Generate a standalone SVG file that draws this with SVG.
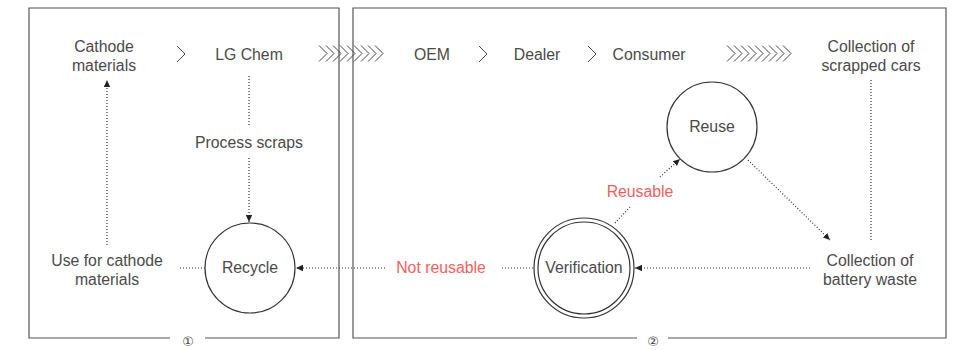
<svg xmlns="http://www.w3.org/2000/svg" width="962" height="350" viewBox="0 0 962 350">
<defs>
<style>
.t{font-family:"Liberation Sans",Arial,sans-serif;font-size:15.8px;fill:#4a4a4a;text-anchor:middle}
.n{font-family:"DejaVu Sans","Noto Sans CJK JP",sans-serif;font-size:13px;fill:#444;text-anchor:middle}
.r{fill:#f0605d}
.box{fill:none;stroke:#555;stroke-width:1.2}
.dot{fill:none;stroke:#333;stroke-width:1.2;stroke-dasharray:1 2}
.chev{fill:none;stroke:#444;stroke-width:1}
.circ{fill:#fff;stroke:#333;stroke-width:1.2}
</style>
<marker id="ah" markerWidth="8" markerHeight="8" refX="7" refY="4" orient="auto" markerUnits="userSpaceOnUse">
<path d="M0,0.8 L7,4 L0,7.2 Z" fill="#222"/>
</marker>
</defs>
<rect width="962" height="350" fill="#fff"/>
<g id="frames">
<path class="box" d="M170,338 L29,338 L29,8 L339,8 L339,338 L205,338"/>
<text class="n" x="188" y="346">①</text>
<path class="box" d="M637,338 L353,338 L353,8 L946,8 L946,338 L668,338"/>
<text class="n" x="653" y="346">②</text>
</g>
<g id="chevrons">
<path class="chev" d="M177,46 L185,54 L177,62"/>
<path class="chev" d="M479,46 L487,54 L479,62"/>
<path class="chev" d="M588,46 L596,54 L588,62"/>
<path class="chev" d="M319,45.5 l8,8 l-8,8 M326,45.5 l8,8 l-8,8 M333,45.5 l8,8 l-8,8 M340,45.5 l8,8 l-8,8 M347,45.5 l8,8 l-8,8 M354,45.5 l8,8 l-8,8 M361,45.5 l8,8 l-8,8 M368,45.5 l8,8 l-8,8 M375,45.5 l8,8 l-8,8"/>
<path class="chev" d="M727,45.5 l8,8 l-8,8 M734,45.5 l8,8 l-8,8 M741,45.5 l8,8 l-8,8 M748,45.5 l8,8 l-8,8 M755,45.5 l8,8 l-8,8 M762,45.5 l8,8 l-8,8 M769,45.5 l8,8 l-8,8 M776,45.5 l8,8 l-8,8 M783,45.5 l8,8 l-8,8"/>
</g>
<g id="connectors">
<path class="dot" d="M107,245 L107,80" marker-end="url(#ah)"/>
<path class="dot" d="M249,76 L249,127"/>
<path class="dot" d="M249,158 L249,222" marker-end="url(#ah)"/>
<path class="dot" d="M180,268 L205,268"/>
<path class="dot" d="M385,268 L296,268" marker-end="url(#ah)"/>
<path class="dot" d="M533,268 L500,268"/>
<path class="dot" d="M810,268 L635,268" marker-end="url(#ah)"/>
<path class="dot" d="M871,80 L871,242"/>
<path class="dot" d="M615,223 L630,207"/>
<path class="dot" d="M660,177 L680,159" marker-end="url(#ah)"/>
<path class="dot" d="M748,160 L830,240" marker-end="url(#ah)"/>
</g>
<g id="n-cathode"><text class="t" x="104" y="52">Cathode</text><text class="t" x="104" y="71">materials</text></g>
<g id="n-lgchem"><text class="t" x="249" y="60">LG Chem</text></g>
<g id="n-oem"><text class="t" x="432" y="60">OEM</text></g>
<g id="n-dealer"><text class="t" x="537" y="60">Dealer</text></g>
<g id="n-consumer"><text class="t" x="649" y="60">Consumer</text></g>
<g id="n-scrapped"><text class="t" x="871" y="52">Collection of</text><text class="t" x="871" y="71">scrapped cars</text></g>
<g id="n-process"><text class="t" x="249" y="148">Process scraps</text></g>
<g id="n-use"><text class="t" x="107" y="266">Use for cathode</text><text class="t" x="107" y="285">materials</text></g>
<g id="n-recycle"><circle class="circ" cx="250" cy="268" r="45"/><text class="t" x="250" y="273">Recycle</text></g>
<g id="n-notreusable"><text class="t r" x="441" y="273">Not reusable</text></g>
<g id="n-verification"><circle class="circ" cx="584" cy="268" r="50"/><circle class="circ" cx="584" cy="268" r="46"/><text class="t" x="584" y="273">Verification</text></g>
<g id="n-reusable"><text class="t r" x="640" y="197">Reusable</text></g>
<g id="n-reuse"><circle class="circ" cx="712" cy="127" r="45"/><text class="t" x="712" y="132">Reuse</text></g>
<g id="n-battery"><text class="t" x="870" y="266">Collection of</text><text class="t" x="870" y="285">battery waste</text></g>
</svg>
